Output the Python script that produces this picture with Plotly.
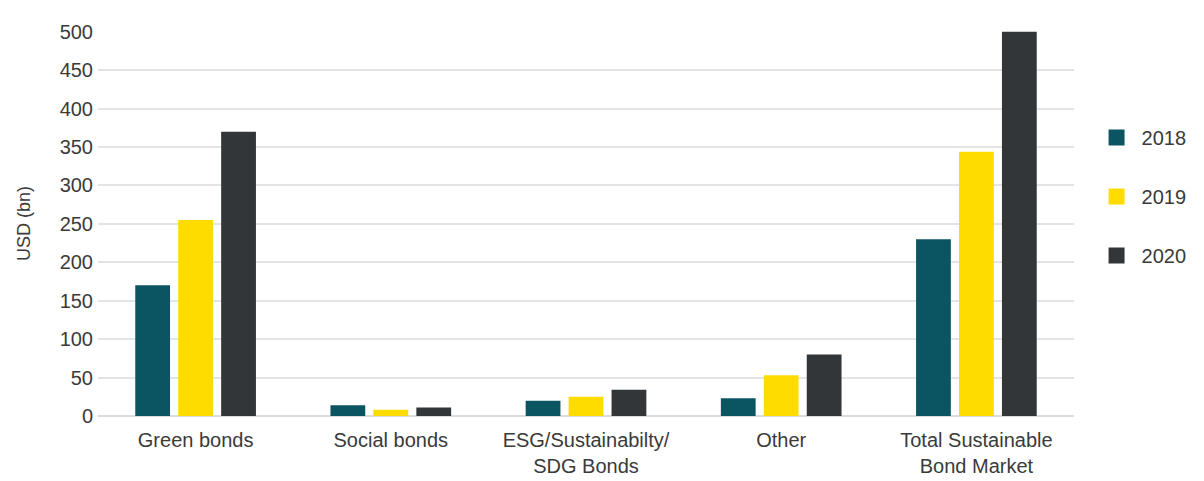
import plotly.graph_objects as go

categories = ["Green bonds", "Social bonds", "ESG/Sustainabilty/<br>SDG Bonds", "Other",
              "Total Sustainable<br>Bond Market"]
years = ["2018", "2019", "2020"]
values_2018 = [170, 14, 20, 23, 230]
values_2019 = [255, 8, 25, 53, 344]
values_2020 = [370, 11, 34, 80, 500]
colors = ["#0b5563", "#ffdc00", "#333638"]
y_ticks = [0, 50, 100, 150, 200, 250, 300, 350, 400, 450, 500]

series = [values_2018, values_2019, values_2020]
font_family = "Liberation Sans, Arial, sans-serif"
text_color = "#3a3a3a"

fig = go.Figure()
for name, vals, col in zip(years, series, colors):
    fig.add_trace(go.Bar(x=categories, y=vals, name=name, marker=dict(color=col, line=dict(width=0)),
                         showlegend=False))
for name, col in zip(years, colors):
    fig.add_trace(go.Scatter(x=[None], y=[None], mode="markers", name=name, legendgroup=name,
                             marker=dict(symbol="square", size=16, color=col)))

fig.update_layout(
    width=1204, height=481,
    margin=dict(l=98, r=130, t=31, b=65),
    paper_bgcolor="white", plot_bgcolor="white",
    barmode="group", bargap=0.34, bargroupgap=0.19,
    font=dict(family=font_family, size=20, color=text_color),
    legend=dict(x=1.018, y=0.57, xanchor="left", yanchor="middle",
                font=dict(size=20, color=text_color), tracegroupgap=30, itemwidth=40,
                traceorder="grouped", itemclick=False),
    xaxis=dict(type="category", showgrid=False, showline=False, ticks="", automargin=False,
               ticklabelstandoff=10, tickfont=dict(size=20, color=text_color)),
    yaxis=dict(range=[0, 501], tickvals=y_ticks, showgrid=True, gridcolor="#e4e4e4", gridwidth=2,
               zeroline=True, zerolinecolor="#dcdcdc", zerolinewidth=2, showline=False,
               ticks="", ticklabelstandoff=4, tickfont=dict(size=20, color=text_color),
               title=dict(text="USD (bn)", font=dict(size=18, color=text_color), standoff=24)),
)

fig.write_html("out.html")
